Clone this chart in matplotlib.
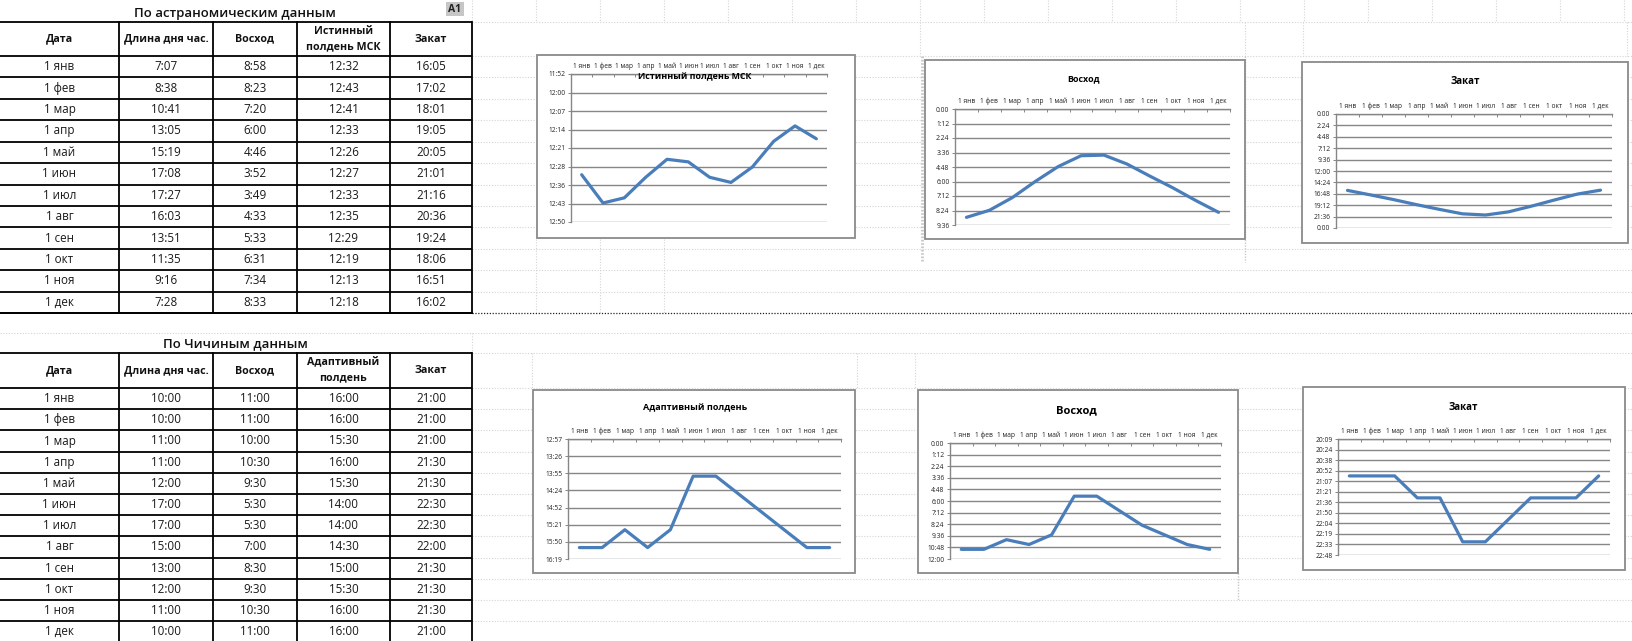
import matplotlib
matplotlib.use("Agg")
import matplotlib.pyplot as plt
from matplotlib.patches import Rectangle
import numpy as np

plt.rcParams['font.family'] = ['Open Sans', 'DejaVu Sans']

# ---------------- data ----------------
dates = ['1 янв', '1 фев', '1 мар', '1 апр', '1 май', '1 июн',
         '1 июл', '1 авг', '1 сен', '1 окт', '1 ноя', '1 дек']

astro_daylen = ['7:07', '8:38', '10:41', '13:05', '15:19', '17:08',
                '17:27', '16:03', '13:51', '11:35', '9:16', '7:28']
astro_sunrise = ['8:58', '8:23', '7:20', '6:00', '4:46', '3:52',
                 '3:49', '4:33', '5:33', '6:31', '7:34', '8:33']
astro_noon = ['12:32', '12:43', '12:41', '12:33', '12:26', '12:27',
              '12:33', '12:35', '12:29', '12:19', '12:13', '12:18']
astro_sunset = ['16:05', '17:02', '18:01', '19:05', '20:05', '21:01',
                '21:16', '20:36', '19:24', '18:06', '16:51', '16:02']

chich_daylen = ['10:00', '10:00', '11:00', '11:00', '12:00', '17:00',
                '17:00', '15:00', '13:00', '12:00', '11:00', '10:00']
chich_sunrise = ['11:00', '11:00', '10:00', '10:30', '9:30', '5:30',
                 '5:30', '7:00', '8:30', '9:30', '10:30', '11:00']
chich_noon = ['16:00', '16:00', '15:30', '16:00', '15:30', '14:00',
              '14:00', '14:30', '15:00', '15:30', '16:00', '16:00']
chich_sunset = ['21:00', '21:00', '21:00', '21:30', '21:30', '22:30',
                '22:30', '22:00', '21:30', '21:30', '21:30', '21:00']

header_astro = ['Дата', 'Длина дня час.', 'Восход', 'Истинный\nполдень МСК', 'Закат']
header_chich = ['Дата', 'Длина дня час.', 'Восход', 'Адаптивный\nполдень', 'Закат']

ticks_noon_astro = ['11:52', '12:00', '12:07', '12:14', '12:21', '12:28', '12:36', '12:43', '12:50']
ticks_rise_astro = ['0:00', '1:12', '2:24', '3:36', '4:48', '6:00', '7:12', '8:24', '9:36']
ticks_set_astro = ['0:00', '2:24', '4:48', '7:12', '9:36', '12:00', '14:24', '16:48', '19:12', '21:36', '0:00']
ticks_noon_chich = ['12:57', '13:26', '13:55', '14:24', '14:52', '15:21', '15:50', '16:19']
ticks_rise_chich = ['0:00', '1:12', '2:24', '3:36', '4:48', '6:00', '7:12', '8:24', '9:36', '10:48', '12:00']
ticks_set_chich = ['20:09', '20:24', '20:38', '20:52', '21:07', '21:21', '21:36', '21:50',
                   '22:04', '22:19', '22:33', '22:48']


def to_day(s):
    h, m = s.split(':')
    return (int(h) + int(m) / 60.0) / 24.0


# ---------------- figure ----------------
W, H = 1633, 641
fig = plt.figure(figsize=(W / 100, H / 100), dpi=100)
fig.patch.set_facecolor('white')
ov = fig.add_axes([0, 0, 1, 1])
ov.set_xlim(0, W)
ov.set_ylim(H, 0)
ov.axis('off')

GRID = '#d4d4d4'

# spreadsheet gridlines (right part)
rowh1 = (313 - 56) / 12.0
rows1 = [22] + [56 + i * rowh1 for i in range(12)]
rowh2 = 21.2
rows2 = [333, 353] + [388 + i * rowh2 for i in range(12)]
for y in rows1 + rows2:
    x0 = 0 if y == 333 else 472
    ov.plot([x0, W], [y, y], color=GRID, lw=0.8, ls=(0, (1, 1.5)), zorder=1)
ov.plot([472, W], [313, 313], color='#222222', lw=0.9, ls=(0, (1, 1.3)), zorder=1)
ov.plot([0, 472], [313, 313], color='black', lw=1.3, zorder=2)
cols = [472 + 64 * i for i in range(19)]
for x in cols:
    ov.plot([x, x], [0, 22], color=GRID, lw=0.8, ls=(0, (1, 1.5)), zorder=1)
for x in [920, 1245, 1303, 1627]:
    ov.plot([x, x], [22, 56], color=GRID, lw=0.8, ls=(0, (1, 1.5)), zorder=1)
for x in [536, 600, 664]:
    ov.plot([x, x], [228, 313], color=GRID, lw=0.8, ls=(0, (1, 1.5)), zorder=1)
for x in [532, 857, 915]:
    ov.plot([x, x], [353, 388], color=GRID, lw=0.8, ls=(0, (1, 1.5)), zorder=1)
ov.plot([472, 472], [333, 353], color=GRID, lw=0.8, ls=(0, (1, 1.5)), zorder=1)
ov.plot([922, 922], [56, 262], color='#c8c8c8', lw=2.0, ls=(0, (0.6, 0.6)), zorder=1)
ov.plot([1245, 1245], [56, 262], color='#c8c8c8', lw=1.0, ls=(0, (1, 1)), zorder=1)
ov.plot([1238, 1238], [573, 600], color='#c8c8c8', lw=1.0, ls=(0, (1, 1)), zorder=1)

# "A1" cell marker
ov.add_patch(Rectangle((446, 2), 18, 14, facecolor='#c6c6c6', edgecolor='none', zorder=3))
ov.text(455, 9, 'A1', ha='center', va='center', fontsize=7.5, fontweight='bold', color='#222222', zorder=4)

# ---------------- tables ----------------
col_x = [0, 119, 213, 297, 390, 472]
col_c = [(col_x[i] + col_x[i + 1]) / 2 for i in range(5)]


def draw_table(title, title_y, head_top, head_bot, rows, header, columns):
    ov.text(235, title_y, title, ha='center', va='center', fontsize=9.5,
            fontweight='semibold', color='#111111', zorder=4)
    lines = [head_top, head_bot] + rows[1:]
    for y in lines:
        ov.plot([0, 472], [y, y], color='black', lw=1.3, zorder=2, solid_capstyle='butt')
    bottom = rows[-1]
    for x in col_x[1:]:
        ov.plot([x, x], [head_top, bottom], color='black', lw=1.3, zorder=2)
    for j, h in enumerate(header):
        ov.text(col_c[j], (head_top + head_bot) / 2, h, ha='center', va='center',
                fontsize=7.7, fontweight='bold', linespacing=1.55, color='#111111', zorder=4)
    for i in range(12):
        yc = (rows[i] + rows[i + 1]) / 2
        for j, col in enumerate(columns):
            ov.text(col_c[j], yc, col[i], ha='center', va='center', fontsize=8.4,
                    color='#1a1a1a', zorder=4)


rows_t1 = [56 + i * rowh1 for i in range(13)]
draw_table('По астраномическим данным', 13, 22, 56, rows_t1, header_astro,
           [dates, astro_daylen, astro_sunrise, astro_noon, astro_sunset])
rows_t2 = [388 + i * rowh2 for i in range(13)]
draw_table('По Чичиным данным', 344, 353, 388, rows_t2, header_chich,
           [dates, chich_daylen, chich_sunrise, chich_noon, chich_sunset])

# ---------------- charts ----------------
LINE = '#4A7EBB'
AXC = '#868686'


def chart(frame, plot, title, title_xy, title_fs, values, ymin, ymax, ticklabels):
    fl, fr, ft, fb = frame
    ov.add_patch(Rectangle((fl, ft), fr - fl, fb - ft, facecolor='white',
                           edgecolor='#8a8a8a', lw=1.3, zorder=5))
    l, r, t, b = plot
    ax = fig.add_axes([l / W, 1 - b / H, (r - l) / W, (b - t) / H])
    ax.patch.set_alpha(0)
    x = np.arange(len(dates))
    y = [to_day(v) for v in values]
    ax.plot(x, y, color=LINE, lw=2.3, solid_joinstyle='round', solid_capstyle='round',
            zorder=3, clip_on=False)
    ax.set_xlim(-0.5, len(dates) - 0.5)
    ax.set_ylim(ymax, ymin)
    yt = np.linspace(ymin, ymax, len(ticklabels))
    ax.set_yticks(yt)
    ax.set_yticklabels(ticklabels)
    ax.yaxis.grid(True, color=AXC, lw=1.0)
    ax.set_axisbelow(True)
    ax.xaxis.tick_top()
    ax.set_xticks(x)
    ax.set_xticklabels(dates)
    ax.set_xticks(np.arange(-0.5, len(dates)), minor=True)
    ax.tick_params(axis='x', which='major', length=0, pad=3, labelsize=4.8, colors='#222222')
    ax.tick_params(axis='x', which='minor', length=2, width=0.7, color=AXC, direction='in')
    ax.tick_params(axis='y', length=2, width=0.7, color=AXC, pad=2, labelsize=4.8,
                   labelcolor='#222222')
    for s in ['right', 'bottom']:
        ax.spines[s].set_visible(False)
    for s in ['left', 'top']:
        ax.spines[s].set_color(AXC)
        ax.spines[s].set_linewidth(1.0)
    fig.text(title_xy[0] / W, 1 - title_xy[1] / H, title, ha='center', va='center',
             fontsize=title_fs, fontweight='bold', color='black', zorder=10)
    return ax


chart((537, 855, 55, 238), (571, 827, 74, 222), 'Истинный полдень МСК', (695, 77), 6.4,
      astro_noon, 0.495, 0.535, ticks_noon_astro)
chart((925, 1245, 60, 239), (955, 1230, 109, 225), 'Восход', (1083, 79), 6.4,
      astro_sunrise, 0.0, 0.4, ticks_rise_astro)
chart((1302, 1628, 62, 243), (1336, 1612, 114, 228), 'Закат', (1465, 82), 7,
      astro_sunset, 0.0, 1.0, ticks_set_astro)
chart((533, 855, 390, 573), (568, 841, 439, 559), 'Адаптивный полдень', (695, 408), 6.5,
      chich_noon, 0.54, 0.68, ticks_noon_chich)
chart((918, 1238, 390, 573), (950, 1221, 443, 559), 'Восход', (1076, 411), 8,
      chich_sunrise, 0.0, 0.5, ticks_rise_chich)
chart((1303, 1625, 387, 570), (1338, 1610, 439, 555), 'Закат', (1463, 407), 7,
      chich_sunset, 0.84, 0.95, ticks_set_chich)

fig.savefig('out.png', dpi=100, facecolor='white')
